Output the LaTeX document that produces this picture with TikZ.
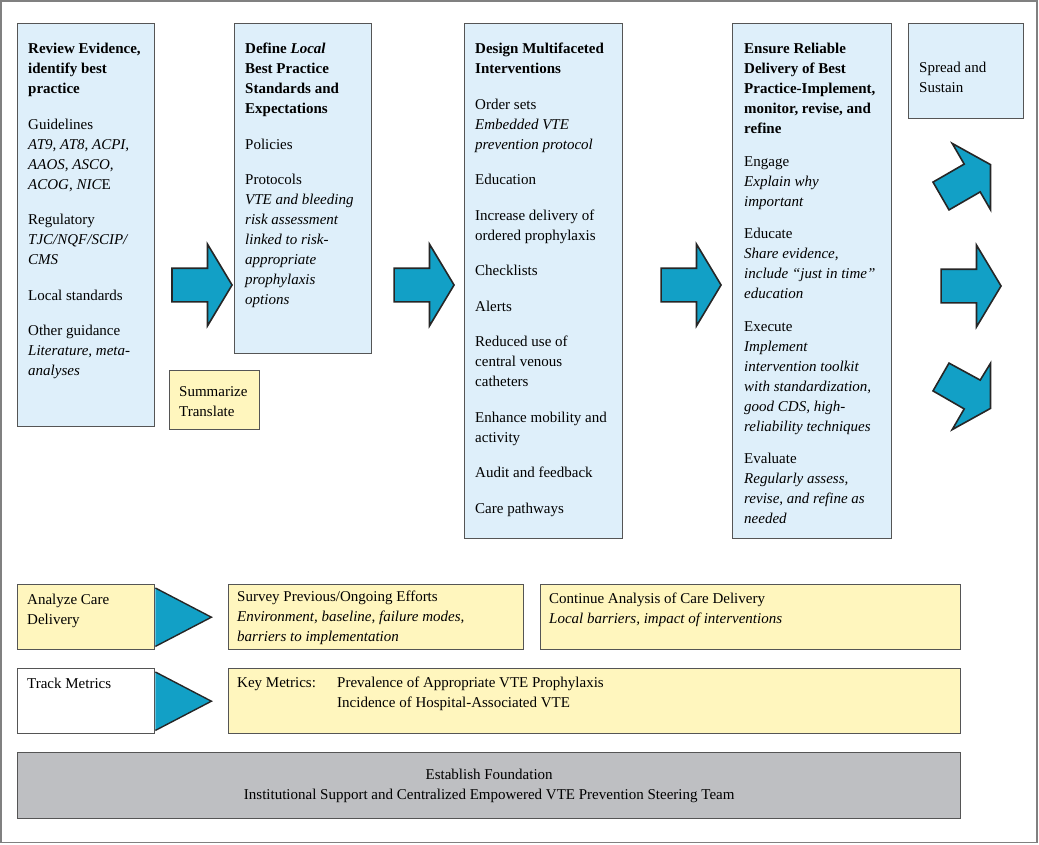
\documentclass[tikz,border=0pt]{standalone}
\usepackage{fontspec}
\setmainfont{Liberation Serif}
\usetikzlibrary{positioning,shapes.arrows,calc}

\definecolor{stageblue}{RGB}{222,239,250}
\definecolor{noteyellow}{RGB}{255,246,190}
\definecolor{basegray}{RGB}{190,191,194}
\definecolor{arrowteal}{RGB}{18,160,198}
\definecolor{edgegray}{RGB}{85,85,85}

\begin{document}
\begin{tikzpicture}[
  x=1pt, y=-1pt,
  font=\fontsize{15}{20}\selectfont,
  panel/.style={draw=edgegray, line width=1.4pt, anchor=north west, inner sep=0pt},
  stage/.style={panel, fill=stageblue},
  note/.style={panel, fill=noteyellow},
  plain/.style={panel, fill=white},
  base/.style={panel, fill=basegray},
  txt/.style={anchor=north west, inner sep=0pt, align=left},
  blockarrow/.style={single arrow, draw=black!85, line width=1.6pt, fill=arrowteal,
    minimum height=60pt, inner xsep=0pt, inner ysep=16pt,
    single arrow head extend=24pt, single arrow tip angle=118},
  cutarrow/.style={draw=black!85, line width=1.6pt, fill=arrowteal},
  wedge/.style={fill=arrowteal},
  wedgeline/.style={draw=black!85, line width=1.4pt},
]
\useasboundingbox (0,0) rectangle (1039,844);
\draw[edgegray!75, line width=1.2pt] (1,1) rectangle (1037,842.5);

% Top row stages
\node[stage, minimum width=137pt, minimum height=403pt] (evid) at (17,23) {};
\node[stage, minimum width=137pt, minimum height=330pt] (local) at (234,23) {};
\node[stage, minimum width=158pt, minimum height=515pt] (design) at (464,23) {};
\node[stage, minimum width=159pt, minimum height=515pt] (ensure) at (732,23) {};
\node[stage, minimum width=115pt, minimum height=95pt] (spread) at (908,23) {};
\node[note, minimum width=90pt, minimum height=59pt] (summ) at (169,370) {};

\node[txt, below right=20pt and 11pt of evid.north west] (evidtxt) {\textbf{Review Evidence,}\\ \textbf{identify best}\\ \textbf{practice}\\[15.5pt]
  Guidelines\\ \textit{AT9, AT8, ACPI,}\\ \textit{AAOS, ASCO,}\\ \textit{ACOG, NIC}E\\[15.5pt]
  Regulatory\\ \textit{TJC/NQF/SCIP/}\\ \textit{CMS}\\[15.5pt]
  Local standards\\[15.5pt]
  Other guidance\\ \textit{Literature, meta-}\\ \textit{analyses}};
\node[txt, below right=20pt and 11pt of local.north west] (localtxt) {\textbf{Define \textit{Local}}\\ \textbf{Best Practice}\\ \textbf{Standards and}\\ \textbf{Expectations}\\[15.5pt]
  Policies\\[15.5pt]
  Protocols\\ \textit{VTE and bleeding}\\ \textit{risk assessment}\\ \textit{linked to risk-}\\ \textit{appropriate}\\ \textit{prophylaxis}\\ \textit{options}};
\node[txt, below right=20pt and 11pt of design.north west] (designtxt) {\textbf{Design Multifaceted}\\ \textbf{Interventions}\\[15.5pt]
  Order sets\\ \textit{Embedded VTE}\\ \textit{prevention protocol}\\[15.5pt]
  Education\\[15.5pt]
  Increase delivery of\\ ordered prophylaxis\\[15.5pt]
  Checklists\\[15.5pt]
  Alerts\\[15.5pt]
  Reduced use of\\ central venous\\ catheters\\[15.5pt]
  Enhance mobility and\\ activity\\[15.5pt]
  Audit and feedback\\[15.5pt]
  Care pathways};
\node[txt, below right=20pt and 12pt of ensure.north west] (ensuretxt) {\textbf{Ensure Reliable}\\ \textbf{Delivery of Best}\\ \textbf{Practice-Implement,}\\ \textbf{monitor, revise, and}\\ \textbf{refine}\\[12.5pt]
  Engage\\ \textit{Explain why}\\ \textit{important}\\[12.5pt]
  Educate\\ \textit{Share evidence,}\\ \textit{include “just in time”}\\ \textit{education}\\[12.5pt]
  Execute\\ \textit{Implement}\\ \textit{intervention toolkit}\\ \textit{with standardization,}\\ \textit{good CDS, high-}\\ \textit{reliability techniques}\\[12.5pt]
  Evaluate\\ \textit{Regularly assess,}\\ \textit{revise, and refine as}\\ \textit{needed}};
\node[txt, below right=39pt and 11pt of spread.north west] (spreadtxt) {Spread and\\ Sustain};
\node[txt, below right=16pt and 10pt of summ.north west] (summtxt) {Summarize\\ Translate};

% Block arrows between stages
\node[blockarrow] (arr1) at (197,285) {};
\node[blockarrow] (arr2) at (419,285) {};
\node[blockarrow] (arr3) at (686,285) {};
\node[blockarrow] (arr4) at (966,286) {};
\filldraw[cutarrow] (933.0,182.1) -- (964.2,164.1) -- (952.2,143.4) -- (990.5,164.6)
  -- (990.5,209.7) -- (980.2,191.9) -- (949.0,209.9) -- cycle;
\filldraw[cutarrow] (933.0,390.9) -- (964.2,408.9) -- (952.2,429.6) -- (990.5,408.4)
  -- (990.5,363.3) -- (980.2,380.1) -- (949.0,363.1) -- cycle;

% Lower rows
\node[note, minimum width=137pt, minimum height=65pt] (analyze) at (17,584) {};
\node[plain, minimum width=137pt, minimum height=65pt] (track) at (17,668) {};
\node[note, minimum width=295pt, minimum height=65pt] (survey) at (228,584) {};
\node[note, minimum width=420pt, minimum height=65pt] (cont) at (540,584) {};
\node[note, minimum width=732pt, minimum height=65pt] (keymet) at (228,668) {};
\node[base, minimum width=943pt, minimum height=66pt] (found) at (17,752) {};

\foreach \src in {analyze,track}{
  \fill[wedge] ($(\src.north east)+(0,4)$) -- ($(\src.east)+(56,0)$) -- ($(\src.south east)+(0,-4)$) -- cycle;
  \draw[wedgeline] ($(\src.north east)+(0,4)$) -- ($(\src.east)+(56,0)$) -- ($(\src.south east)+(0,-4)$);
}

\node[txt, below right=10pt and 10pt of analyze.north west] (analyzetxt) {Analyze Care\\ Delivery};
\node[txt, below right=10pt and 10pt of track.north west] (tracktxt) {Track Metrics};
\node[txt, below right=7pt and 9pt of survey.north west] (surveytxt) {Survey Previous/Ongoing Efforts\\ \textit{Environment, baseline, failure modes,}\\ \textit{barriers to implementation}};
\node[txt, below right=9pt and 9pt of cont.north west] (conttxt) {Continue Analysis of Care Delivery\\ \textit{Local barriers, impact of interventions}};
\node[txt, below right=9pt and 9pt of keymet.north west] (keylbl) {Key Metrics:};
\node[txt, below right=0pt and 100pt of keylbl.north west] (keylist) {Prevalence of Appropriate VTE Prophylaxis\\ Incidence of Hospital-Associated VTE};
\node[align=center] (foundtxt) at (found.center) {Establish Foundation\\ Institutional Support and Centralized Empowered VTE Prevention Steering Team};
\end{tikzpicture}
\end{document}
